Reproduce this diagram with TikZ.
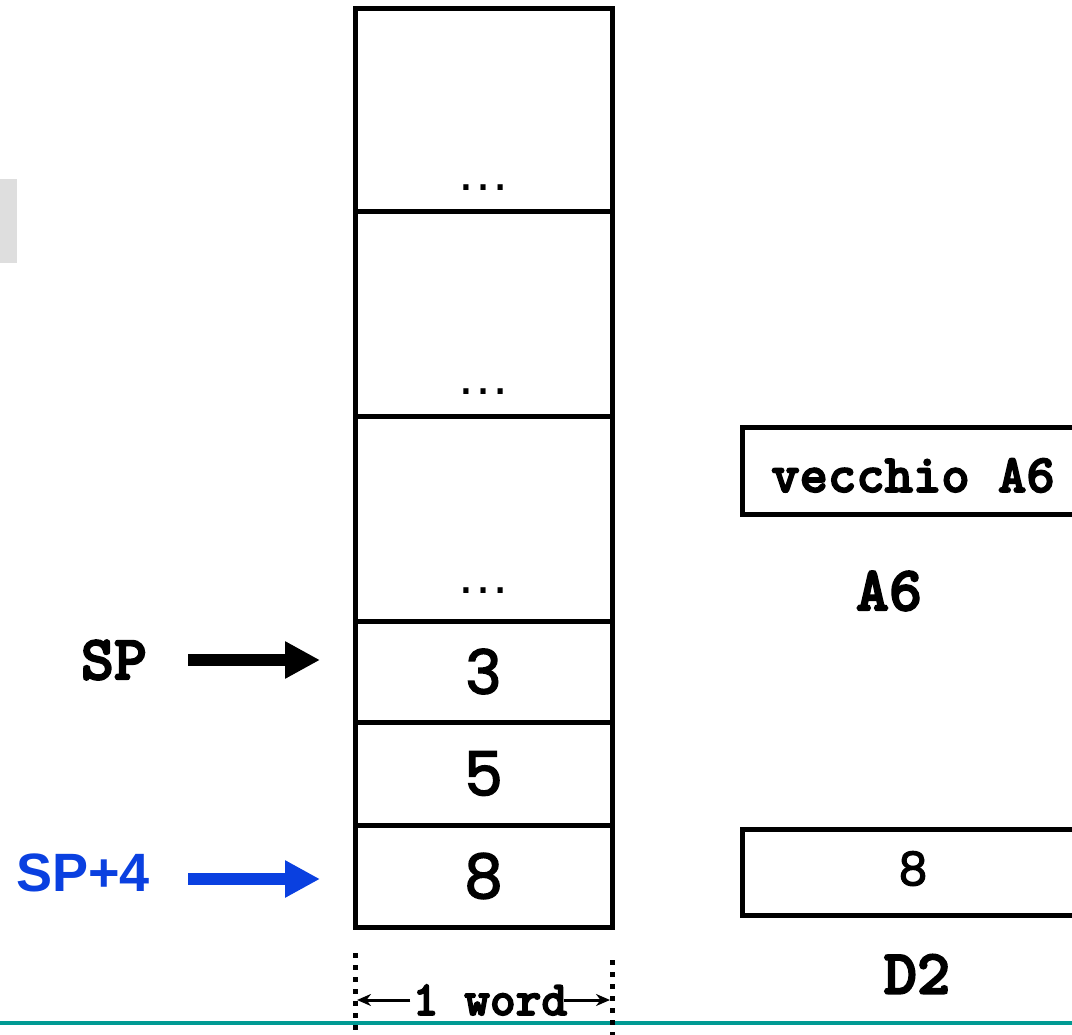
\documentclass[tikz,border=0pt]{standalone}
\usepackage{fontspec}
\setmainfont{Liberation Mono}
\newfontfamily\courierb[FakeBold=3]{lmmonolt10-bold.otf}
\newfontfamily\geofont[FakeBold=2.5]{Poppins}
\newfontfamily\arialfont{Liberation Sans}
\usetikzlibrary{arrows.meta}
\definecolor{spblue}{HTML}{0A40E0}
\definecolor{rulecolor}{HTML}{009A93}
\definecolor{tabgray}{HTML}{DEDEDE}

\begin{document}
\begin{tikzpicture}[x=1pt, y=-1pt, line width=5pt]
			\tikzstyle{cell}    = [rectangle, draw=black, minimum width=257pt, inner sep=0pt]
			\tikzstyle{reg}     = [rectangle, draw=black, minimum width=342pt, minimum height=86pt, inner sep=0pt]
			\tikzstyle{digit}   = [inner sep=0pt, font=\geofont\fontsize{61}{61}\selectfont]
			\tikzstyle{mono}    = [inner sep=0pt, font=\courierb\fontsize{63}{63}\selectfont]
			\tikzstyle{dots}    = [inner sep=0pt, anchor=base, font=\arialfont\fontsize{54}{54}\selectfont]
			\tikzstyle{pointer} = [-{Triangle[length=35pt, width=35pt]}, line width=12pt]
			\tikzstyle{dotline} = [line width=5pt, dash pattern=on 5pt off 7pt]

			\clip (0,0) rectangle (1072,1035);

			\fill[tabgray] (0,179) rectangle (17,263);
			\draw[rulecolor, line width=4pt] (0,1023) -- (1072,1023);

			% stack
			\foreach \name/\top/\bot in {c1/9/212, c2/212/416, c3/416/621, c4/621/722, c5/722/825, c6/825/927}
				\node[cell, minimum height={(\bot-\top)*1pt}] (\name) at (483.5, {(\top+\bot)/2}) {};

			\foreach \name/\y in {c1/191, c2/395, c3/593}
				\node[dots] (d\name) at (483.5, \y) {…};

			\foreach \name/\val in {c4/3, c5/5, c6/8}
				\node[digit] (v\name) at (\name) {\val};

			% pointers
			\node[mono] (sp) at (114, 660) {SP};
			\node[inner sep=0pt, text=spblue, font=\arialfont\bfseries\fontsize{54}{54}\selectfont] (spfour) at (83, 873) {SP+4};
			\coordinate (sptail) at (188, 660);
			\coordinate (sptip) at (320, 660);
			\coordinate (spfourtail) at (188, 879);
			\coordinate (spfourtip) at (320, 879);
			\draw[pointer] (sptail) -- (sptip);
			\draw[pointer, spblue] (spfourtail) -- (spfourtip);

			% registers
			\node[reg, minimum height=87pt, text height=43pt, text depth=0pt, font=\courierb\fontsize{54}{54}\selectfont] (oldA6) at (913, 470.5) {vecchio A6};
			\node[mono] (A6) at (889, 591) {A6};
			\node[reg, text height=26pt, text depth=0pt, font=\geofont\fontsize{46}{46}\selectfont] (valD2) at (913, 872) {8};
			\node[mono] (D2) at (917, 974) {D2};

			% word width
			\draw[dotline] (355,953) -- (355,1040);
			\draw[dotline] (612,960) -- (612,1040);
			\node[inner sep=0pt, font=\courierb\fontsize{49}{49}\selectfont] (word) at (490, 1000) {1 word};
			\coordinate (wl) at (357, 1000);
			\coordinate (wr) at (610, 1000);
			\draw[-{Stealth[length=14pt, width=12pt]}, line width=3pt] (word.west) -- (wl);
			\draw[-{Stealth[length=14pt, width=12pt]}, line width=3pt] ([xshift=-6pt]word.east) -- (wr);

		\end{tikzpicture}
\end{document}
